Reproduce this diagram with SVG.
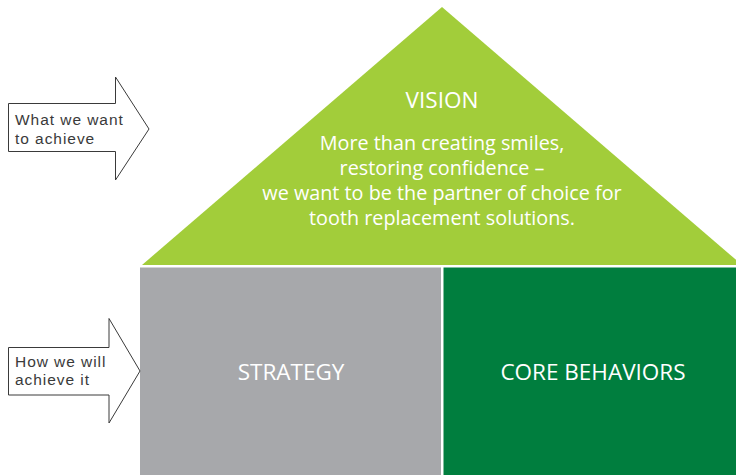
<svg xmlns="http://www.w3.org/2000/svg" width="736" height="475" viewBox="0 0 736 475">
<style>
.arrow{fill:#fff;stroke:#3a3a3a;stroke-width:1}
.lbl{font-family:"Liberation Sans",Arial,sans-serif;font-size:15.5px;letter-spacing:0.95px;fill:#3a3a3a}
.w{font-family:"Open Sans","Liberation Sans",sans-serif;fill:#fff;text-anchor:middle}
</style>
<rect width="736" height="475" fill="#fff"/>
<g id="vision">
<polygon points="142,265 442,7 742,265" fill="#a2cd3a"/>
<text class="w" x="442" y="108" font-size="22.5">VISION</text>
<text class="w" x="442" y="150" font-size="19.8">More than creating smiles,</text>
<text class="w" x="442" y="175" font-size="19.8">restoring confidence –</text>
<text class="w" x="442" y="200" font-size="19.8">we want to be the partner of choice for</text>
<text class="w" x="442" y="225" font-size="19.8">tooth replacement solutions.</text>
</g>
<g id="strategy">
<rect x="140" y="267.5" width="301" height="207.5" fill="#a7a8ab"/>
<text class="w" x="291" y="380" font-size="22.5">STRATEGY</text>
</g>
<g id="core-behaviors">
<rect x="443.5" y="267.5" width="292.5" height="207.5" fill="#007e3e"/>
<text class="w" x="593" y="380" font-size="22.5">CORE BEHAVIORS</text>
</g>
<g id="connectors">
<g id="arrow-what">
<polygon class="arrow" points="8.5,103.5 115.5,103.5 115.5,77 149,129 115.5,180 115.5,151.5 8.5,151.5"/>
<text class="lbl" x="15" y="125">What we want</text>
<text class="lbl" x="15" y="144">to achieve</text>
</g>
<g id="arrow-how">
<polygon class="arrow" points="8.5,347.5 109,347.5 109,318.5 140,371 109,423 109,395 8.5,395"/>
<text class="lbl" x="15" y="366.5">How we will</text>
<text class="lbl" x="15" y="385">achieve it</text>
</g>
</g>
</svg>
